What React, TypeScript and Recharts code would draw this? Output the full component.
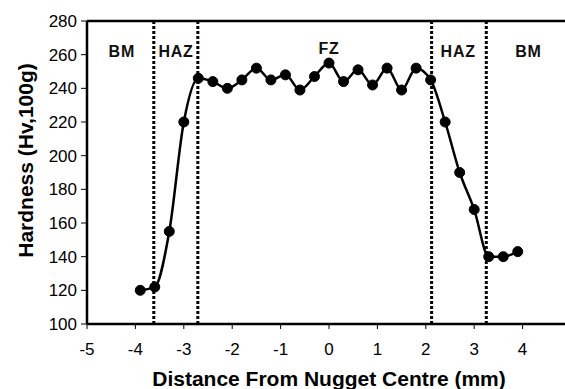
import React from 'react'
import {
  LineChart,
  Line,
  XAxis,
  YAxis,
  ReferenceLine,
  ReferenceDot,
} from 'recharts'

// distance from nugget centre (mm) and hardness (Hv,100g)
const distances = [
  -3.9, -3.6, -3.3, -3.0, -2.7, -2.4, -2.1, -1.8, -1.5, -1.2, -0.9, -0.6, -0.3, 0,
  0.3, 0.6, 0.9, 1.2, 1.5, 1.8, 2.1, 2.4, 2.7, 3.0, 3.3, 3.6, 3.9,
]
const hardness = [
  120, 122, 155, 220, 246, 244, 240, 245, 252, 245, 248, 239, 247, 255,
  244, 251, 242, 252, 239, 252, 245, 220, 190, 168, 140, 140, 143,
]

// zone boundaries (mm)
const boundaries = [-3.62, -2.71, 2.12, 3.25]

// zone labels: name, centre (mm), height (Hv)
const zoneNames = ['BM', 'HAZ', 'FZ', 'HAZ', 'BM']
const zoneX = [-4.28, -3.16, 0, 2.67, 4.12]
const zoneY = [262, 262, 264, 262, 262]

const xTicks = [-5, -4, -3, -2, -1, 0, 1, 2, 3, 4, 5]
const yTicks = [100, 120, 140, 160, 180, 200, 220, 240, 260, 280]

const data = distances.map((d, i) => ({ x: d, hv: hardness[i] }))

const FONT = '"Liberation Sans", Arial, sans-serif'

function YTitle(props: any) {
  const vb = props.viewBox
  const cx = vb.x - 2
  const cy = vb.y + vb.height / 2 - 12
  return (
    <text
      x={cx}
      y={cy}
      transform={`rotate(-90, ${cx}, ${cy})`}
      textAnchor="middle"
      dominantBaseline="central"
      fontFamily={FONT}
      fontWeight="bold"
      fontSize={21}
      fill="#000"
    >
      Hardness (Hv,100g)
    </text>
  )
}

export default function App() {
  return (
    <div
      style={{
        position: 'fixed',
        left: 0,
        top: 0,
        width: 565,
        height: 389,
        overflow: 'hidden',
        background: '#fff',
      }}
    >
      <LineChart
        width={580}
        height={389}
        data={data}
        margin={{ top: 21, right: 9, left: 27, bottom: 0 }}
      >
        <XAxis
          dataKey="x"
          type="number"
          domain={[-5, 5]}
          ticks={xTicks}
          interval={0}
          axisLine={{ stroke: '#000', strokeWidth: 2.5 }}
          tickLine={{ stroke: '#000', strokeWidth: 1 }}
          tickSize={5}
          tickMargin={14}
          tick={{ fill: '#000', fontSize: 17, fontFamily: FONT }}
          height={65}
          label={{
            value: 'Distance From Nugget Centre (mm)',
            position: 'insideBottom',
            offset: 3,
            fill: '#000',
            fontSize: 21,
            fontWeight: 'bold',
            fontFamily: FONT,
          }}
        />
        <YAxis
          type="number"
          domain={[100, 280]}
          ticks={yTicks}
          interval={0}
          axisLine={{ stroke: '#000', strokeWidth: 2.5 }}
          tickLine={{ stroke: '#000', strokeWidth: 1 }}
          tickSize={6}
          tickMargin={4}
          tick={{ fill: '#000', fontSize: 17, fontFamily: FONT }}
          width={60}
          label={<YTitle />}
        />
        {/* plot frame top/right */}
        <ReferenceLine y={280} stroke="#000" strokeWidth={2.5} />
        <ReferenceLine x={5} stroke="#000" strokeWidth={2.5} />
        {boundaries.map((b, i) => (
          <ReferenceLine
            key={i}
            x={b}
            stroke="#000"
            strokeWidth={3}
            strokeDasharray="3 2"
          />
        ))}
        {zoneNames.map((n, i) => (
          <ReferenceDot
            key={i}
            x={zoneX[i]}
            y={zoneY[i]}
            r={0}
            stroke="none"
            fill="none"
            label={{
              value: n,
              position: 'center',
              fill: '#111',
              fontSize: 16,
              fontWeight: 'bold',
              fontFamily: FONT,
              letterSpacing: 0.8,
            }}
          />
        ))}
        <Line
          dataKey="hv"
          type="monotone"
          stroke="#000"
          strokeWidth={2.5}
          dot={{ r: 5, fill: '#000', stroke: '#000', strokeWidth: 1 }}
          isAnimationActive={false}
        />
      </LineChart>
    </div>
  )
}
